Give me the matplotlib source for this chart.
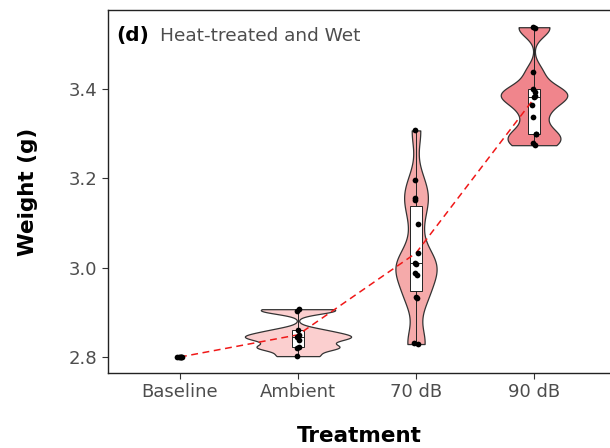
import numpy as np
import matplotlib
matplotlib.use('Agg')
from matplotlib import pyplot as plt

# values
groups = ['Baseline', 'Ambient', '70 dB', '90 dB']
baseline = [2.800, 2.799, 2.801, 2.800, 2.799, 2.801]
ambient = [2.907, 2.903, 2.860, 2.849, 2.845, 2.838, 2.823, 2.820, 2.802]
db70 = [3.307, 3.196, 3.155, 3.151, 3.097, 3.032, 3.011, 3.008, 2.988, 2.983, 2.935, 2.932, 2.832, 2.829]
db90 = [3.538, 3.536, 3.437, 3.399, 3.393, 3.385, 3.381, 3.363, 3.337, 3.300, 3.298, 3.278, 3.274]
# small horizontal jitter of the dots, as seen in the picture
jit_base = [-0.022, -0.012, 0.0, 0.01, 0.02, 0.005]
jit_amb = [0.01, -0.005, 0.0, 0.01, -0.01, 0.005, 0.012, -0.008, -0.005]
jit_70 = [-0.005, -0.01, -0.008, -0.01, 0.02, 0.015, -0.005, 0.0, -0.005, 0.012, 0.002, 0.005, -0.015, 0.02]
jit_90 = [-0.01, 0.005, -0.005, -0.01, 0.008, 0.012, 0.0, -0.015, -0.01, 0.015, 0.02, -0.005, 0.01]
fills = [None, '#FBCFCF', '#F5AAAA', '#F0858C']

data = [baseline, ambient, db70, db90]
jits = [jit_base, jit_amb, jit_70, jit_90]


def kde(vals, grid, adjust=0.5):
    vals = np.asarray(vals)
    n = len(vals)
    sd = np.std(vals, ddof=1)
    q75, q25 = np.percentile(vals, [75, 25])
    bw = adjust * 0.9 * min(sd, (q75 - q25) / 1.34) * n ** -0.2
    z = (grid[:, None] - vals[None, :]) / bw
    return np.exp(-0.5 * z ** 2).sum(1) / (n * bw * np.sqrt(2 * np.pi))


fig = plt.figure(figsize=(6.1, 4.48), dpi=100)
ax = fig.add_axes([108 / 610, 1 - 373 / 448, 502 / 610, 363 / 448])

# violins (scaled by count, width 0.9, trimmed)
dens = {}
for i, vals in enumerate(data):
    if np.std(vals) < 0.005:
        continue
    grid = np.linspace(min(vals), max(vals), 512)
    dens[i] = (grid, kde(vals, grid) * len(vals))
dmax = max(d.max() for g, d in dens.values())
for i, (grid, d) in dens.items():
    hw = 0.45 * d / dmax
    ax.fill_betweenx(grid, i - hw, i + hw, facecolor=fills[i], edgecolor='#333333',
                     linewidth=0.9, zorder=2)

# boxes
bx = ax.boxplot([data[i] for i in dens], positions=list(dens.keys()), widths=0.1,
                patch_artist=True, showfliers=False, showcaps=False,
                boxprops=dict(facecolor='white', edgecolor='#222222', linewidth=0.7),
                whiskerprops=dict(color='#222222', linewidth=0.7),
                medianprops=dict(color='#222222', linewidth=0.7), zorder=3)

# mean line
means = [np.mean(v) for v in data]
ax.plot(range(len(groups)), means, color='#F01818', linestyle=(0, (4.5, 3)), linewidth=1.1, zorder=4)

# dots
for i, (vals, jt) in enumerate(zip(data, jits)):
    ax.scatter(np.array(jt) + i, vals, s=17, color='black', zorder=5, linewidths=0)

ax.set_xlim(-0.61, 3.644)
ax.set_ylim(2.7642, 3.5765)
ax.set_xticks(range(len(groups)))
ax.set_xticklabels(groups)
ax.set_yticks([2.8, 3.0, 3.2, 3.4])
ax.set_yticklabels(['2.8', '3.0', '3.2', '3.4'])
ax.tick_params(labelsize=13, labelcolor='#4D4D4D', color='#333333', length=4, width=0.8)
ax.spines['right'].set_visible(False)
for s in ['left', 'bottom', 'top']:
    ax.spines[s].set_linewidth(1.0)
    ax.spines[s].set_color('#222222')

ax.set_xlabel('Treatment', fontsize=15.5, fontweight='bold', labelpad=18)
ax.set_ylabel('Weight (g)', fontsize=15.5, fontweight='bold', labelpad=22)

ax.text(0.016, 0.9146, '(d)', transform=ax.transAxes, fontsize=14.5, fontweight='bold',
        va='baseline', ha='left')
ax.text(0.1036, 0.9146, 'Heat-treated and Wet', transform=ax.transAxes, fontsize=13.3,
        color='#4D4D4D', va='baseline', ha='left')

fig.savefig('out.png', dpi=100)
